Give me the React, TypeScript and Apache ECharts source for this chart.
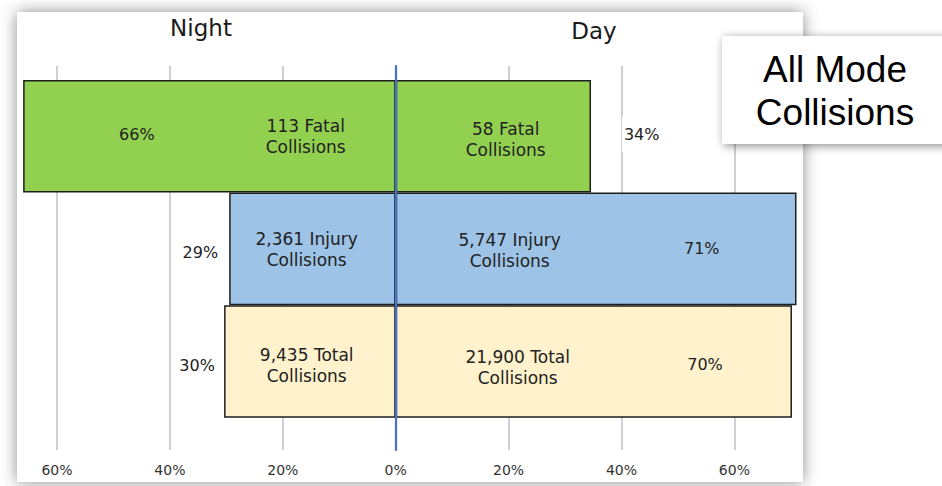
import React, { useEffect, useRef } from 'react';
import * as echarts from 'echarts';

// ---- data ----
const categories = ['Fatal', 'Injury', 'Total'];
const nightShare = [66.0, 29.5, 30.4]; // bar length, % at night
const dayShare = [34.6, 71.0, 70.2]; // bar length, % during day
const nightPctLabels = ['66%', '29%', '30%'];
const dayPctLabels = ['34%', '71%', '70%'];
const nightCounts = ['113', '2,361', '9,435'];
const dayCounts = ['58', '5,747', '21,900'];
const axisMin = -60;
const axisMax = 60;
const axisStep = 20;

// ---- styles / placement ----
const rowColors = ['#92D050', '#9DC3E6', '#FFF2CC'];
const FONT = 'DejaVu Sans';
const nightCountPlace = [
  { distance: 90, offset: [0, 0] },
  { distance: 89, offset: [0, 1] },
  { distance: 89, offset: [0, 4] },
];
const dayCountPlace = [
  { distance: 110, offset: [0, 3] },
  { distance: 114, offset: [0, 2] },
  { distance: 122, offset: [0, 6] },
];
const nightPctPlace: any[] = [
  { position: 'insideLeft', distance: 113.7, offset: [0, -1.5] },
  { position: 'left', distance: 28.8, offset: [0, 3.5], backgroundColor: '#fff' },
  { position: 'left', distance: 27, offset: [0, 4.5], backgroundColor: '#fff' },
];
const dayPctPlace: any[] = [
  { position: 'right', distance: 50.7, offset: [0, -1.5], backgroundColor: '#fff' },
  { position: 'insideRight', distance: 94.7, offset: [0, 0] },
  { position: 'insideRight', distance: 87, offset: [0, 3.5] },
];

export default function App() {
  const ref = useRef<HTMLDivElement>(null);
  useEffect(() => {
    if (!ref.current) return;
    const chart = echarts.init(ref.current, null, { renderer: 'svg' });
    const gridLeft = 57;
    const gridRight = 207.6;

    const barCommon = {
      type: 'bar',
      xAxisIndex: 0,
      yAxisIndex: 0,
      barGap: '-100%',
      barCategoryGap: '0%',
      clip: false,
    };
    const countLabel = {
      show: true,
      align: 'center',
      verticalAlign: 'middle',
      fontSize: 17,
      lineHeight: 21,
      color: '#222',
      fontFamily: FONT,
    };
    const pctLabel = {
      show: true,
      align: 'center',
      verticalAlign: 'middle',
      fontSize: 16,
      color: '#222',
      fontFamily: FONT,
      padding: [10, 2],
    };

    chart.setOption({
      animation: false,
      backgroundColor: '#ffffff',
      grid: [
        { left: gridLeft, right: gridRight, top: 80, height: 337.7 },
        { left: gridLeft, right: gridRight, top: 66, height: 384 },
      ],
      xAxis: [
        { type: 'value', gridIndex: 0, min: axisMin, max: axisMax, show: false },
        {
          type: 'value',
          gridIndex: 1,
          min: axisMin,
          max: axisMax,
          interval: axisStep,
          axisLine: { show: false },
          axisTick: { show: false },
          splitLine: {
            show: true,
            showMinLine: true,
            showMaxLine: true,
            lineStyle: { color: '#C4C4C4', width: 1.6 },
          },
          axisLabel: {
            margin: 13,
            fontSize: 14,
            color: '#333',
            fontFamily: FONT,
            formatter: (v: number) => `${Math.abs(v)}%`,
          },
        },
      ],
      yAxis: [
        { type: 'category', gridIndex: 0, data: categories, inverse: true, show: false },
        {
          type: 'value',
          gridIndex: 1,
          min: 0,
          max: 1,
          z: 10,
          axisLine: { show: true, onZero: true, lineStyle: { color: '#4472C4', width: 2.2 } },
          axisTick: { show: false },
          axisLabel: { show: false },
          splitLine: { show: false },
        },
      ],
      series: [
        {
          ...barCommon,
          name: 'Night',
          itemStyle: { borderColor: '#1e1e1e', borderWidth: 1.5 },
          label: {
            ...countLabel,
            position: 'insideRight',
            formatter: (p: any) => `${nightCounts[p.dataIndex]} ${categories[p.dataIndex]}\nCollisions`,
          },
          data: nightShare.map((v, i) => ({
            value: -v,
            itemStyle: { color: rowColors[i] },
            label: nightCountPlace[i],
          })),
        },
        {
          ...barCommon,
          name: 'Day',
          itemStyle: { borderColor: '#1e1e1e', borderWidth: 1.5 },
          label: {
            ...countLabel,
            position: 'insideLeft',
            formatter: (p: any) => `${dayCounts[p.dataIndex]} ${categories[p.dataIndex]}\nCollisions`,
          },
          data: dayShare.map((v, i) => ({
            value: v,
            itemStyle: { color: rowColors[i] },
            label: dayCountPlace[i],
          })),
        },
        {
          ...barCommon,
          name: 'Night %',
          itemStyle: { color: 'rgba(0,0,0,0)', borderWidth: 0 },
          label: { ...pctLabel, formatter: (p: any) => nightPctLabels[p.dataIndex] },
          data: nightShare.map((v, i) => ({ value: -v, label: nightPctPlace[i] })),
        },
        {
          ...barCommon,
          name: 'Day %',
          itemStyle: { color: 'rgba(0,0,0,0)', borderWidth: 0 },
          label: { ...pctLabel, formatter: (p: any) => dayPctLabels[p.dataIndex] },
          data: dayShare.map((v, i) => ({ value: v, label: dayPctPlace[i] })),
        },
      ],
      graphic: [
        {
          type: 'rect',
          z: -10,
          shape: { x: 17, y: 12, width: 786, height: 470 },
          style: { fill: '#ffffff', shadowBlur: 16, shadowColor: 'rgba(0,0,0,0.45)' },
        },
        {
          type: 'text',
          z: 5,
          x: 201,
          y: 28,
          style: {
            text: 'Night',
            fontSize: 23,
            fontFamily: FONT,
            fill: '#1a1a1a',
            align: 'center',
            verticalAlign: 'middle',
          },
        },
        {
          type: 'text',
          z: 5,
          x: 594,
          y: 31,
          style: {
            text: 'Day',
            fontSize: 23,
            fontFamily: FONT,
            fill: '#1a1a1a',
            align: 'center',
            verticalAlign: 'middle',
          },
        },
        {
          type: 'rect',
          z: 20,
          shape: { x: 722, y: 36, width: 240, height: 108 },
          style: {
            fill: '#ffffff',
            shadowBlur: 10,
            shadowOffsetX: 2,
            shadowOffsetY: 2,
            shadowColor: 'rgba(0,0,0,0.45)',
          },
        },
        {
          type: 'text',
          z: 21,
          x: 835,
          y: 91,
          style: {
            text: 'All Mode\nCollisions',
            fontSize: 37,
            lineHeight: 43,
            fontFamily: 'Liberation Sans',
            fill: '#000',
            align: 'center',
            verticalAlign: 'middle',
          },
        },
      ],
    });
    return () => chart.dispose();
  }, []);
  return (
    <div
      ref={ref}
      style={{ position: 'fixed', left: 0, top: 0, width: 942, height: 486 }}
    />
  );
}
